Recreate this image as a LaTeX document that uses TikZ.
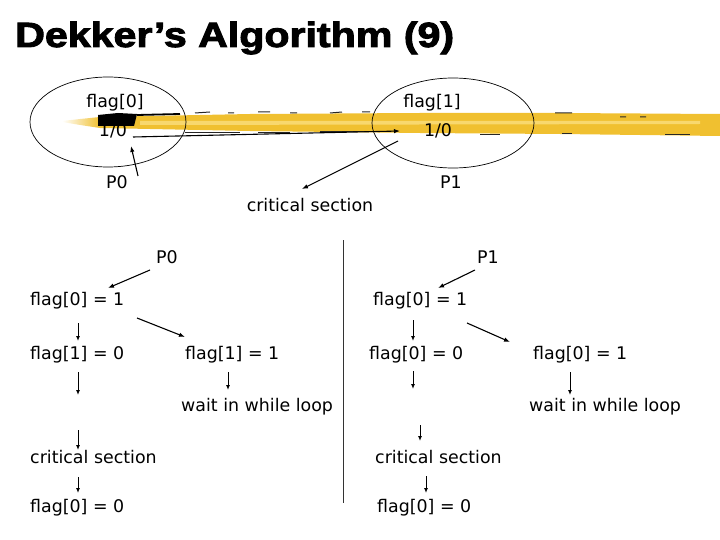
\documentclass[tikz,border=0pt]{standalone}
\usepackage{fontspec}
\setmainfont{DejaVu Sans}
\newfontfamily\titlefont[BoldFeatures={FakeBold=2.5}]{Liberation Sans}
\usetikzlibrary{arrows.meta}
\definecolor{brush}{RGB}{240,192,48}
\definecolor{brushlight}{RGB}{248,216,110}
\begin{document}
\begin{tikzpicture}[x=1pt,y=-1pt,
  txt/.style={inner sep=0pt, font=\fontsize{17.4}{20}\selectfont},
  lt/.style={txt, anchor=west},
  arr/.style={-{Latex[length=6pt,width=4.5pt]}, line width=1.1pt},
  sarr/.style={-{Latex[length=5pt,width=4pt]}, line width=1pt},
  speck/.style={line width=1pt, black!85},
  oval/.style={line width=0.7pt}
]
\useasboundingbox (0,0) rectangle (720,540);
% brush stroke
\shade[left color=white, right color=brush] (62,121) .. controls (80,119) .. (100,117) -- (100,128) .. controls (80,125) .. (62,122) -- cycle;
\fill[brush] (100,117) -- (250,114) -- (420,113) -- (560,113) -- (720,114) -- (720,136) -- (560,134) -- (420,133) -- (250,131) -- (100,128) -- cycle;
\fill[brushlight] (140,121) -- (700,121) -- (700,124) -- (140,125) -- cycle;
\fill[black] (98,115) -- (118,113) -- (137,114) -- (134,126) -- (98,126) -- cycle;
\draw[line width=1.8pt] (137,115) -- (180,114);
\draw[speck] (195,113) -- (210,112) (228,113) -- (234,113) (258,112) -- (270,112) (290,113) -- (297,113) (330,113) -- (342,112) (362,112) -- (370,112) (555,113) -- (572,113) (620,117) -- (626,117) (640,117) -- (646,117);
\draw[speck] (185,133) -- (240,133) (258,133) -- (290,133) (320,132) -- (370,132) (480,135) -- (500,135) (562,134) -- (572,134) (665,135) -- (690,135);
% ellipses
\draw[oval] (108,122) ellipse [x radius=78pt, y radius=45pt];
\draw[oval] (453,123) ellipse [x radius=81pt, y radius=45pt];
% title
\node[anchor=base west, inner sep=0pt, xscale=1.21, yscale=1.03] (title) at (15,47) {\titlefont\bfseries\fontsize{34}{36}\selectfont Dekker’s Algorithm (9)};
% top labels
\node[txt] (f0) at (115,103) {flag[0]};
\node[txt] (v0) at (113,131) {1/0};
\node[txt] (f1) at (432,103) {flag[1]};
\node[txt] (v1) at (438,131) {1/0};
\node[txt] (p0t) at (117,182) {P0};
\node[txt] (p1t) at (451,182) {P1};
\node[txt] (cst) at (310,205) {critical section};
\coordinate (a1s) at (133,137); \coordinate (a1e) at (400,131);
\coordinate (a2s) at (398,141); \coordinate (a2e) at (302,189);
\coordinate (a3s) at (138,176); \coordinate (a3e) at (131,146);
\draw[arr] (a1s) -- (a1e);
\draw[arr] (a2s) -- (a2e);
\draw[arr] (a3s) -- (a3e);
% divider
\coordinate (dtop) at (343,240); \coordinate (dbot) at (343,503);
\draw[line width=1pt, black!80] (dtop) -- (dbot);
% left column
\node[txt] (P0) at (167,257) {P0};
\node[lt] (L1) at (30,301) {flag[0] = 1};
\node[lt] (L2) at (30,355) {flag[1] = 0};
\node[lt] (L3) at (30,457) {critical section};
\node[lt] (L4) at (30,508) {flag[0] = 0};
\node[lt] (L5) at (185,355) {flag[1] = 1};
\node[lt] (L6) at (181,407) {wait in while loop};
% right column
\node[txt] (P1) at (488,257) {P1};
\node[lt] (R1) at (373,301) {flag[0] = 1};
\node[lt] (R2) at (369,355) {flag[0] = 0};
\node[lt] (R3) at (375,457) {critical section};
\node[lt] (R4) at (377,508) {flag[0] = 0};
\node[lt] (R5) at (533,355) {flag[0] = 1};
\node[lt] (R6) at (529,407) {wait in while loop};
% left arrows
\draw[arr] (150,270) coordinate (b1s) -- (108,288) coordinate (b1e);
\draw[sarr] (78,323) coordinate (b2s) -- (78,341) coordinate (b2e);
\draw[sarr] (78,372) coordinate (b3s) -- (78,395) coordinate (b3e);
\draw[sarr] (78,430) coordinate (b4s) -- (78,450) coordinate (b4e);
\draw[sarr] (78,477) coordinate (b5s) -- (78,493) coordinate (b5e);
\draw[arr] (137,318) coordinate (b6s) -- (185,337) coordinate (b6e);
\draw[sarr] (228,372) coordinate (b7s) -- (228,390) coordinate (b7e);
% right arrows
\draw[arr] (475,270) coordinate (c1s) -- (438,288) coordinate (c1e);
\draw[sarr] (413,320) coordinate (c2s) -- (413,341) coordinate (c2e);
\draw[sarr] (413,371) coordinate (c3s) -- (413,389) coordinate (c3e);
\draw[arr] (467,323) coordinate (c4s) -- (510,342) coordinate (c4e);
\draw[sarr] (570,372) coordinate (c5s) -- (570,395) coordinate (c5e);
\draw[sarr] (420,425) coordinate (c6s) -- (420,441) coordinate (c6e);
\draw[sarr] (426,476) coordinate (c7s) -- (426,493) coordinate (c7e);
\end{tikzpicture}
\end{document}
